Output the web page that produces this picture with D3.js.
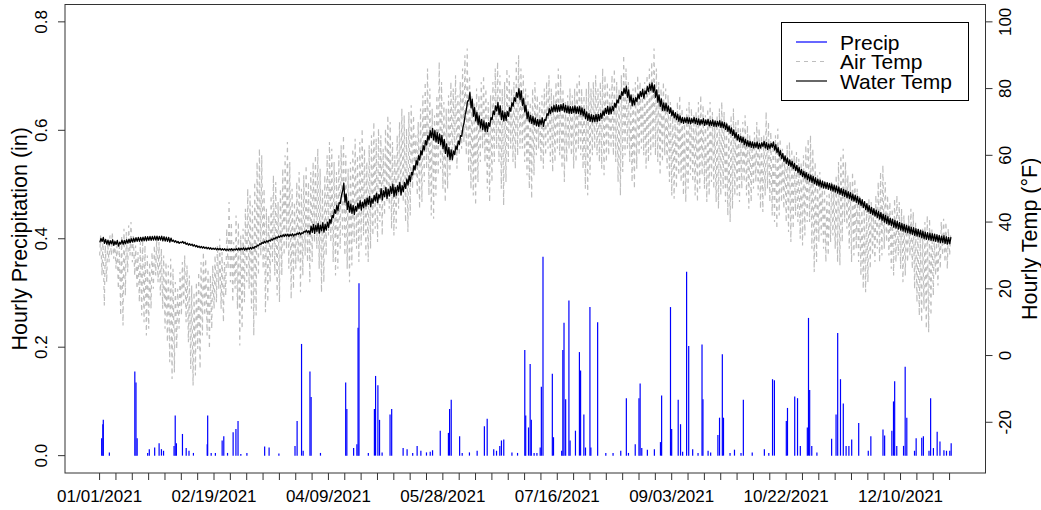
<!DOCTYPE html>
<html>
<head>
<meta charset="utf-8">
<script src="https://cdn.jsdelivr.net/npm/d3@7"></script>
<style>
body { margin: 0; background: #fff; }
text { font-family: "Liberation Sans", Arial, sans-serif; fill: #000; }
</style>
</head>
<body>
<div id="chart"></div>
<script>
// ---- data ----
var monthStart = [0, 31, 59, 90, 120, 151, 181, 212, 243, 273, 304, 334];

// daily air temp highs / lows (F), one row per month
var airHi = [
  [36,35,33,34,36,37,35,33,34,36,38,37,39,40,36,33,31,34,35,33,30,28,31,33,35,34,32,30,28,27,29],
  [26,22,20,25,28,30,27,24,21,19,22,25,28,31,29,26,24,27,30,33,35,31,28,38,46,40,34,42],
  [40,36,38,44,50,48,45,52,58,62,60,50,44,42,48,54,52,46,50,56,60,64,58,50,46,52,55,50,54,57,52],
  [55,58,60,62,56,50,54,60,64,62,58,55,60,63,66,60,56,58,62,65,60,64,68,62,58,63,66,70,65,68],
  [66,62,68,72,70,64,60,66,70,74,72,68,73,75,72,66,70,74,78,82,86,80,74,72,78,88,82,76,74,78,82],
  [80,84,78,82,86,90,92,84,78,76,80,78,82,84,80,76,78,82,86,88,84,80,82,86,84,80,82,88,90,86],
  [84,80,78,76,80,82,78,76,78,80,82,84,80,78,82,86,84,80,76,78,80,78,80,82,84,80,78,80,82,80,82],
  [84,80,82,86,84,82,80,84,86,82,80,84,90,86,82,78,80,82,84,82,80,82,84,86,88,92,86,82,80,82,80],
  [78,76,74,72,76,78,74,72,74,76,74,72,73,76,78,75,72,74,76,73,70,72,74,76,73,70,68,72,74,70],
  [71,68,70,72,69,66,64,67,70,68,66,66,73,70,67,64,66,68,65,62,60,63,64,62,60,61,59,58,60,63,65],
  [66,62,58,54,55,52,50,48,49,52,50,54,58,60,62,58,54,52,55,53,50,48,46,44,45,47,46,44,48,52],
  [55,57,52,48,46,44,47,48,46,44,42,40,42,44,43,40,38,36,38,40,42,41,38,35,34,36,40,41,40,38,36]
];
var airLo = [
  [30,24,15,22,28,30,29,26,20,12,9,18,25,30,28,24,20,16,12,10,6,8,14,20,24,22,18,14,8,4,-2],
  [-7,-5,2,8,12,15,10,4,-4,-9,-6,2,-4,6,12,6,2,8,14,16,20,14,10,18,26,22,16,20],
  [14,3,8,16,22,20,14,6,12,24,30,26,13,16,22,28,24,18,16,24,30,32,26,17,20,26,28,19,24,30,28],
  [22,28,34,32,26,19,22,30,36,34,28,24,26,32,36,30,26,22,27,34,32,28,33,36,30,28,32,36,38,34],
  [40,36,42,46,44,38,36,38,44,48,46,40,37,42,50,54,48,44,46,52,56,48,42,41,48,54,56,50,46,50,54],
  [58,60,56,60,62,64,60,55,50,48,45,52,58,62,58,50,46,52,58,62,58,50,45,52,58,62,58,56,60,62],
  [62,58,54,50,47,54,60,62,58,56,60,62,58,55,58,62,60,56,52,58,62,60,56,58,62,60,56,50,48,54,60],
  [62,60,58,56,54,58,60,62,60,58,52,48,55,60,62,58,52,50,56,60,62,60,56,58,60,62,60,58,54,58,60],
  [56,52,48,47,50,54,52,48,46,50,54,52,48,46,50,54,50,46,48,52,50,46,44,48,50,46,42,40,44,48],
  [48,46,50,52,48,44,46,50,52,48,44,43,48,50,46,42,40,38,42,46,44,40,37,34,38,42,40,35,33,36,40],
  [40,32,25,28,34,36,32,28,30,34,36,32,28,27,34,40,38,32,28,30,32,28,24,20,19,22,26,30,28,32],
  [28,30,32,34,30,26,24,28,30,26,22,24,28,30,26,20,16,12,10,14,8,7,12,18,24,21,26,30,28,26,30]
];

// daily mean water temp (F), one row per month
var waterTemp = [
  [34.5,34.8,34.2,34.0,33.8,34.1,33.6,33.9,33.4,34.0,33.9,34.1,34.3,34.4,34.6,34.7,34.8,34.8,34.9,35.0,35.0,35.1,35.1,35.2,35.2,35.1,35.2,35.0,34.9,34.8,34.6],
  [34.4,34.2,34.0,33.8,34.0,33.8,33.5,33.3,33.2,33.0,32.8,32.6,32.5,32.4,32.3,32.2,32.1,32.0,32.0,31.9,31.9,31.8,31.8,31.7,31.7,31.8,31.7,31.8],
  [31.9,31.9,32.0,31.9,32.0,32.1,32.2,32.4,32.8,33.2,33.6,33.9,34.1,34.3,34.6,34.9,35.2,35.5,35.7,35.9,36.0,36.1,36.0,36.2,36.1,36.4,36.6,36.5,36.9,37.3,37.1],
  [37.6,38.1,37.8,38.4,37.9,38.6,38.2,38.8,39.6,40.8,42.5,43.8,44.6,46.8,50.5,47.2,45.0,44.2,43.8,43.5,44.5,45.2,44.8,45.5,46.0,46.5,45.8,46.8,47.5,47.0],
  [48.6,48.0,49.0,48.5,49.2,50.0,49.0,49.5,50.5,49.5,50.5,51.5,52.5,53.5,55.5,57.0,58.5,60.0,61.5,63.0,64.5,66.0,66.7,66.0,65.4,65.0,64.6,63.4,62.0,61.0,60.2],
  [60.0,61.5,63.0,64.6,67.0,71.0,75.0,77.6,75.5,73.0,71.6,70.5,69.5,69.0,68.5,68.5,70.0,72.0,73.5,74.6,73.5,72.0,71.6,71.8,73.0,74.5,76.0,77.5,78.7,78.0],
  [76.0,74.0,72.0,71.0,70.6,70.2,69.8,69.7,70.2,69.7,71.5,73.0,73.5,74.0,74.2,74.0,74.2,74.5,74.0,73.8,73.6,73.6,73.8,73.5,73.6,73.2,72.8,72.0,71.5,71.2,71.0],
  [71.2,71.2,71.5,72.2,73.0,73.6,73.4,73.6,74.5,75.5,76.8,78.0,79.0,79.6,78.5,77.0,76.0,76.2,77.2,78.0,78.7,78.2,79.5,80.2,80.6,80.0,78.5,77.0,75.8,74.6,74.5],
  [74.0,73.4,72.6,72.0,71.5,71.0,70.6,70.4,70.6,70.4,70.2,70.6,70.3,70.1,69.9,70.2,69.8,70.0,69.6,69.8,69.5,69.4,69.6,69.2,69.0,68.6,68.0,67.4,66.8,66.0],
  [65.4,64.9,64.6,64.0,63.6,63.4,63.2,63.0,63.2,62.8,63.0,63.4,63.0,62.6,62.8,63.2,62.4,61.6,60.6,59.8,59.0,58.4,57.8,57.4,56.8,56.2,55.6,55.0,54.4,54.0,53.5],
  [53.2,52.8,52.4,52.0,51.7,51.4,51.1,50.9,50.7,50.5,50.2,49.9,49.6,49.2,48.9,48.6,48.2,47.9,47.5,47.2,46.8,46.3,45.8,45.2,44.6,44.0,43.5,43.1,42.7,42.3],
  [41.9,41.4,41.0,40.6,40.2,39.9,39.5,39.2,38.9,38.6,38.3,38.0,37.8,37.5,37.3,37.0,36.8,36.6,36.3,36.0,35.8,35.7,35.5,35.4,35.2,35.0,34.8,34.9,34.6,34.4,34.5]
];
// typical half of the daily water temp swing (F), per month
var waterSwing = [0.6, 0.2, 0.3, 1.2, 1.4, 1.3, 1.0, 1.1, 0.8, 0.8, 0.9, 1.0];

// hourly precip spikes: [day of year, inches]
var precip = [
  [1.1,0.032],[1.6,0.058],[1.8,0.066],[4.4,0.006],[15.3,0.155],[15.8,0.135],[16.3,0.032],[20.8,0.005],[21.5,0.012],
  [23.8,0.015],[25.7,0.023],[26.7,0.012],[27.6,0.009],[32.1,0.018],[32.6,0.074],[33.1,0.023],[35.7,0.04],[37.3,0.014],
  [38.5,0.009],[40.4,0.005],[46.3,0.021],[46.5,0.074],[48.0,0.005],[49.8,0.005],[52.7,0.028],[53.4,0.036],[55.0,0.005],
  [57.4,0.043],[58.6,0.049],[59.5,0.064],[60.7,0.003],[63.3,0.005],[70.9,0.017],[72.8,0.015],[77.0,0.004],[83.9,0.018],
  [84.8,0.064],[86.7,0.206],[87.4,0.009],[90.3,0.155],[90.8,0.108],[94.8,0.005],[105.6,0.135],[106.1,0.086],[109.0,0.014],
  [110.4,0.021],[110.9,0.236],[111.3,0.318],[115.3,0.005],[117.9,0.086],[118.4,0.147],[119.4,0.130],[120.1,0.066],
  [121.2,0.006],[124.6,0.076],[125.3,0.086],[130.2,0.014],[131.9,0.012],[134.3,0.005],[136.2,0.018],[137.8,0.009],
  [140.2,0.006],[141.8,0.007],[142.8,0.010],[146.1,0.046],[149.6,0.042],[150.1,0.086],[150.8,0.103],[154.4,0.036],
  [155.5,0.005],[158.6,0.006],[161.9,0.009],[165.0,0.054],[166.2,0.068],[169.0,0.012],[170.2,0.009],[171.6,0.018],
  [172.3,0.028],[173.3,0.030],[176.8,0.006],[179.2,0.005],[182.3,0.195],[182.7,0.074],[183.9,0.052],[184.6,0.169],
  [185.1,0.066],[186.3,0.005],[187.5,0.005],[188.9,0.015],[189.4,0.127],[190.1,0.367],[194.1,0.151],[194.6,0.034],
  [198.1,0.009],[198.6,0.195],[199.1,0.245],[199.8,0.104],[201.2,0.286],[201.7,0.028],[204.0,0.046],[205.7,0.191],
  [206.2,0.157],[207.6,0.076],[208.3,0.015],[210.2,0.274],[210.6,0.015],[213.5,0.246],[217.0,0.005],[220.1,0.005],
  [223.4,0.009],[225.8,0.106],[226.7,0.005],[229.6,0.021],[231.2,0.106],[231.7,0.133],[232.4,0.014],[234.8,0.011],
  [237.8,0.012],[240.4,0.025],[240.9,0.111],[244.7,0.274],[245.2,0.049],[248.0,0.103],[249.0,0.058],[249.9,0.007],
  [251.6,0.339],[252.5,0.202],[254.2,0.012],[256.5,0.005],[258.2,0.205],[258.6,0.104],[260.8,0.009],[261.9,0.006],
  [265.0,0.038],[265.7,0.070],[266.9,0.187],[267.4,0.070],[270.2,0.005],[272.1,0.011],[274.9,0.005],[275.9,0.103],
  [279.7,0.006],[284.9,0.012],[286.8,0.005],[288.4,0.141],[289.2,0.139],[294.3,0.064],[294.8,0.088],[297.9,0.109],
  [299.1,0.106],[300.3,0.018],[303.3,0.052],[303.8,0.254],[304.3,0.121],[305.2,0.018],[307.4,0.006],[313.7,0.031],
  [315.6,0.076],[316.3,0.226],[317.5,0.141],[318.7,0.096],[319.9,0.018],[321.1,0.018],[322.3,0.030],[325.3,0.060],
  [329.4,0.009],[330.5,0.036],[335.7,0.048],[336.4,0.037],[339.5,0.046],[340.2,0.100],[340.7,0.137],[341.6,0.018],
  [344.5,0.018],[345.2,0.164],[345.9,0.070],[349.2,0.009],[349.9,0.032],[352.3,0.033],[353.0,0.036],[355.4,0.009],
  [356.1,0.106],[357.3,0.014],[358.9,0.044],[360.1,0.026],[361.8,0.010],[362.9,0.009],[364.3,0.009],[364.9,0.023]
];

var xLabels = ["01/01/2021","02/19/2021","04/09/2021","05/28/2021","07/16/2021","09/03/2021","10/22/2021","12/10/2021"];
var precipTicks = [0, 0.2, 0.4, 0.6, 0.8];
var tempTicks = [-20, 0, 20, 40, 60, 80, 100];

// ---- layout ----
var width = 1041, height = 510;
var box = {left: 65, right: 985.5, top: 4.5, bottom: 473};

var svg = d3.select("#chart").append("svg")
  .attr("width", width).attr("height", height);

svg.append("rect").attr("width", width).attr("height", height).attr("fill", "#fff");

var x = d3.scaleLinear().domain([-14.6, 379.6]).range([box.left, box.right]);
var yP = d3.scaleLinear().domain([-0.032, 0.832]).range([box.bottom, box.top]);
var yT = d3.scaleLinear().domain([-35.2, 105.2]).range([box.bottom, box.top]);

var plot = svg.append("g");

// precip as vertical spikes
plot.append("g").selectAll("line")
  .data(precip).enter().append("line")
  .attr("x1", function(d){ return x(d[0]); })
  .attr("x2", function(d){ return x(d[0]); })
  .attr("y1", yP(0))
  .attr("y2", function(d){ return yP(d[1]); })
  .attr("stroke", "#0000ff")
  .attr("stroke-width", 1.2);

// air temp: low in the morning, high in the afternoon
var airPts = [];
airHi.forEach(function(row, m){
  row.forEach(function(v, i){
    var day = monthStart[m] + i;
    airPts.push([day + 0.25, airLo[m][i]]);
    airPts.push([day + 0.65, v]);
  });
});

// water temp: daily low / high around the daily mean
var waterPts = [];
waterTemp.forEach(function(row, m){
  row.forEach(function(v, i){
    var day = monthStart[m] + i;
    waterPts.push([day + 0.3, v - waterSwing[m]]);
    waterPts.push([day + 0.8, v + waterSwing[m]]);
  });
});

var tLine = d3.line()
  .x(function(d){ return x(d[0]); })
  .y(function(d){ return yT(d[1]); });

plot.append("path")
  .datum(airPts)
  .attr("d", tLine)
  .attr("fill", "none")
  .attr("stroke", "#bebebe")
  .attr("stroke-width", 1.2)
  .attr("stroke-dasharray", "4,4");

plot.append("path")
  .datum(waterPts)
  .attr("d", tLine)
  .attr("fill", "none")
  .attr("stroke", "#000")
  .attr("stroke-width", 1.3)
  .attr("stroke-linejoin", "round");

// box
svg.append("rect")
  .attr("x", box.left).attr("y", box.top)
  .attr("width", box.right - box.left).attr("height", box.bottom - box.top)
  .attr("fill", "none").attr("stroke", "#333").attr("stroke-width", 1);

// x axis
var xAxis = d3.axisBottom(x)
  .tickValues(d3.range(0, 365, 7))
  .tickSize(7)
  .tickPadding(10)
  .tickFormat(function(d){ return d % 49 === 0 ? xLabels[d / 49] : ""; });
var gx = svg.append("g")
  .attr("transform", "translate(0," + box.bottom + ")")
  .call(xAxis);
gx.select(".domain").remove();
gx.selectAll("line").attr("stroke", "#333");
gx.selectAll("text").style("font-size", "17px").attr("fill", "#000")
  .style("font-family", "'Liberation Sans', Arial, sans-serif");

// left axis
var gl = svg.append("g");
gl.selectAll("line").data(precipTicks).enter().append("line")
  .attr("x1", box.left - 7).attr("x2", box.left)
  .attr("y1", function(d){ return yP(d); }).attr("y2", function(d){ return yP(d); })
  .attr("stroke", "#333");
gl.selectAll("text").data(precipTicks).enter().append("text")
  .attr("transform", function(d){ return "translate(47," + yP(d) + ")rotate(-90)"; })
  .attr("text-anchor", "middle")
  .style("font-size", "17px")
  .text(function(d){ return d3.format(".1f")(d); });

// right axis
var gr = svg.append("g");
gr.selectAll("line").data(tempTicks).enter().append("line")
  .attr("x1", box.right).attr("x2", box.right + 7)
  .attr("y1", function(d){ return yT(d); }).attr("y2", function(d){ return yT(d); })
  .attr("stroke", "#333");
gr.selectAll("text").data(tempTicks).enter().append("text")
  .attr("transform", function(d){ return "translate(1011," + yT(d) + ")rotate(-90)"; })
  .attr("text-anchor", "middle")
  .style("font-size", "17px")
  .text(function(d){ return d; });

// axis titles
var midY = (box.top + box.bottom) / 2;
svg.append("text")
  .attr("transform", "translate(27," + midY + ")rotate(-90)")
  .attr("text-anchor", "middle")
  .style("font-size", "21.5px")
  .text("Hourly Precipitation (in)");
svg.append("text")
  .attr("transform", "translate(1037," + midY + ")rotate(-90)")
  .attr("text-anchor", "middle")
  .style("font-size", "21.5px")
  .text("Hourly Temp (\u00B0F)");

// legend
var legend = svg.append("g");
legend.append("rect")
  .attr("x", 781.5).attr("y", 22.5).attr("width", 187).attr("height", 78)
  .attr("fill", "#fff").attr("stroke", "#000").attr("stroke-width", 1);
var legItems = [
  {label: "Precip", color: "#0000ff", dash: null},
  {label: "Air Temp", color: "#bebebe", dash: "4,4"},
  {label: "Water Temp", color: "#000", dash: null}
];
legItems.forEach(function(d, i){
  var cy = 42 + i * 19.5;
  legend.append("line")
    .attr("x1", 796).attr("x2", 827).attr("y1", cy).attr("y2", cy)
    .attr("stroke", d.color).attr("stroke-width", 1.2)
    .attr("stroke-dasharray", d.dash);
  legend.append("text")
    .attr("x", 840).attr("y", cy + 7.5)
    .style("font-size", "21px")
    .text(d.label);
});
</script>
</body>
</html>
